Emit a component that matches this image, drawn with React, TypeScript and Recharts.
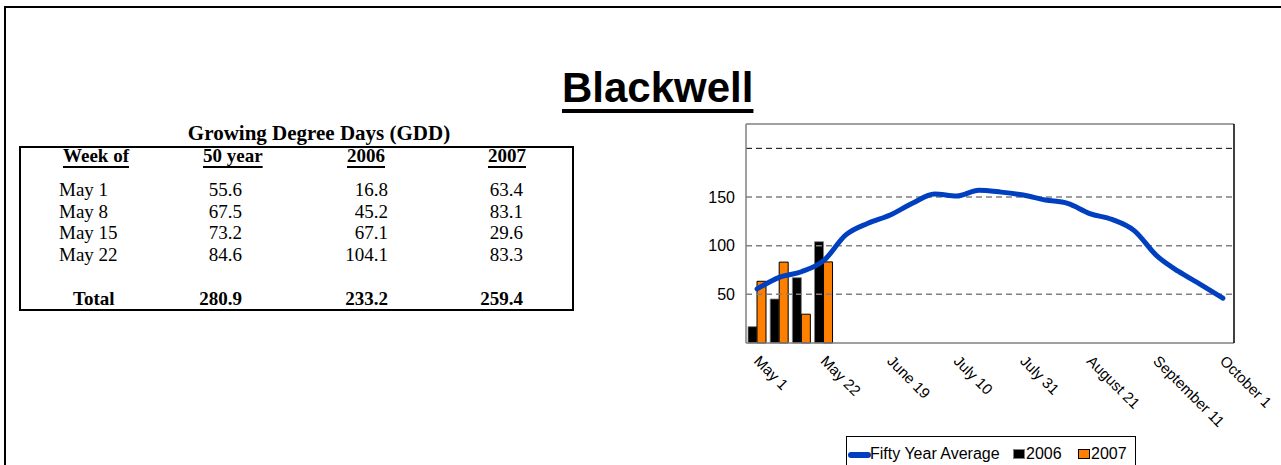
import {
  ComposedChart,
  Bar,
  Line,
  XAxis,
  YAxis,
  ReferenceLine,
} from 'recharts'

// weekly categories on the chart (only every third one is labelled)
const weeks = [
  'May 1', 'May 8', 'May 15', 'May 22', 'June 5', 'June 12', 'June 19', 'June 26',
  'July 3', 'July 10', 'July 17', 'July 24', 'July 31', 'August 7', 'August 14',
  'August 21', 'August 28', 'September 4', 'September 11', 'September 18',
  'September 25', 'October 1',
]

const fiftyYearAvg = [
  55.6, 67.5, 73.2, 84.6, 111, 123, 131.5, 143.5, 153, 151, 157, 155, 152, 147,
  143.5, 133, 127, 115.5, 90, 73.5, 60, 46,
]
const gdd2006 = [16.8, 45.2, 67.1, 104.1]
const gdd2007 = [63.4, 83.1, 29.6, 83.3]

const yTicks = [50, 100, 150]
const gridLevels = [50, 100, 150, 200]
const yMax = 225

const SANS = '"Liberation Sans", Arial, Helvetica, sans-serif'
const SERIF = '"Liberation Serif", "Times New Roman", Times, serif'

const BLUE = '#0040C0'
const ORANGE = '#FF8000'

const chartData = weeks.map((week, i) => ({
  week,
  avg: fiftyYearAvg[i],
  y2006: gdd2006[i],
  y2007: gdd2007[i],
}))

const tableRows = weeks.slice(0, 4).map((week, i) => ({
  week,
  avg: fiftyYearAvg[i].toFixed(1),
  y2006: gdd2006[i].toFixed(1),
  y2007: gdd2007[i].toFixed(1),
}))

const sum = (arr: number[]) => arr.reduce((a, b) => a + b, 0).toFixed(1)
const totals = [sum(fiftyYearAvg.slice(0, 4)), sum(gdd2006), sum(gdd2007)]

function XTick({ x, y, payload }: any) {
  const sx = x - 4
  const sy = y + 11
  return (
    <text
      x={sx}
      y={sy}
      transform={`rotate(45 ${sx} ${sy})`}
      fontSize={15}
      fontFamily={SANS}
      fill="#000"
    >
      {payload.value}
    </text>
  )
}

// column right edges for the table numbers
const colRight = [242, 388, 523]

function GddTable() {
  const rowTop = (i: number) => 180 + i * 21.5
  const cell = (text: string, right: number, top: number, bold = false) => (
    <span
      style={{
        position: 'absolute',
        right: 1281 - right,
        top,
        fontSize: 19,
        lineHeight: '19px',
        fontWeight: bold ? 'bold' : 'normal',
        whiteSpace: 'nowrap',
      }}
    >
      {text}
    </span>
  )
  const header = (text: string, left: number) => (
    <span
      style={{
        position: 'absolute',
        left,
        top: 148,
        fontSize: 19,
        lineHeight: '15px',
        fontWeight: 'bold',
        textDecoration: 'underline',
        textUnderlineOffset: '4px',
        textDecorationThickness: '2px',
        whiteSpace: 'nowrap',
      }}
    >
      {text}
    </span>
  )

  return (
    <div style={{ position: 'absolute', left: 0, top: 0, width: 1281, height: 465, fontFamily: SERIF, color: '#000' }}>
      <div
        style={{
          position: 'absolute',
          left: 119,
          width: 400,
          top: 124,
          textAlign: 'center',
          fontSize: 21,
          lineHeight: '18px',
          fontWeight: 'bold',
        }}
      >
        Growing Degree Days (GDD)
      </div>
      <div
        style={{
          position: 'absolute',
          left: 19,
          top: 146,
          width: 555,
          height: 165,
          border: '2px solid #000',
          boxSizing: 'border-box',
        }}
      />
      {header('Week of', 63)}
      {header('50 year', 203)}
      {header('2006', 347)}
      {header('2007', 488)}
      {tableRows.map((r, i) => (
        <span key={r.week}>
          <span
            style={{ position: 'absolute', left: 59, top: rowTop(i), fontSize: 19, lineHeight: '19px', whiteSpace: 'nowrap' }}
          >
            {r.week}
          </span>
          {cell(r.avg, colRight[0], rowTop(i))}
          {cell(r.y2006, colRight[1], rowTop(i))}
          {cell(r.y2007, colRight[2], rowTop(i))}
        </span>
      ))}
      <span
        style={{ position: 'absolute', left: 73, top: 289, fontSize: 19, lineHeight: '19px', fontWeight: 'bold' }}
      >
        Total
      </span>
      {totals.map((t, i) => (
        <span key={i}>{cell(t, colRight[i], 289, true)}</span>
      ))}
    </div>
  )
}

function ChartLegend() {
  const label = (text: string, left: number) => (
    <span style={{ position: 'absolute', left, top: 9, fontSize: 16, lineHeight: '16px', whiteSpace: 'nowrap' }}>
      {text}
    </span>
  )
  return (
    <div
      style={{
        position: 'absolute',
        left: 846,
        top: 436,
        width: 290,
        height: 34,
        border: '1px solid #000',
        boxSizing: 'border-box',
        fontFamily: SANS,
        color: '#000',
        background: '#fff',
      }}
    >
      <span
        style={{ position: 'absolute', left: 1, top: 15, width: 23, height: 6, borderRadius: 3, background: BLUE }}
      />
      {label('Fifty Year Average', 23)}
      <span
        style={{ position: 'absolute', left: 166, top: 12, width: 12, height: 10, background: '#000', border: '1px solid #808080', boxSizing: 'border-box' }}
      />
      {label('2006', 179)}
      <span
        style={{ position: 'absolute', left: 231, top: 12, width: 12, height: 10, background: ORANGE, border: '1px solid #000', boxSizing: 'border-box' }}
      />
      {label('2007', 244)}
    </div>
  )
}

export default function App() {
  return (
    <div
      style={{
        position: 'absolute',
        left: 0,
        top: 0,
        width: 1281,
        height: 465,
        overflow: 'hidden',
        background: '#fff',
      }}
    >
      {/* page frame */}
      <div
        style={{
          position: 'absolute',
          left: 4,
          top: 6,
          width: 1300,
          height: 500,
          borderLeft: '2px solid #000',
          borderTop: '2px solid #000',
        }}
      />

      <span
        style={{
          position: 'absolute',
          left: 562,
          top: 67,
          fontFamily: SANS,
          fontSize: 42,
          lineHeight: '42px',
          fontWeight: 'bold',
          textDecoration: 'underline',
          textUnderlineOffset: '7px',
          textDecorationThickness: '4px',
          whiteSpace: 'nowrap',
        }}
      >
        Blackwell
      </span>

      <GddTable />

      <div style={{ position: 'absolute', left: 690, top: 115 }}>
        <ComposedChart
          width={591}
          height={350}
          data={chartData}
          margin={{ top: 9, right: 46, bottom: 22, left: 6 }}
          barGap={0}
          barCategoryGap={2}
        >
          <XAxis
            dataKey="week"
            interval={2}
            tickLine={false}
            axisLine={{ stroke: '#808080', strokeWidth: 1.5 }}
            height={100}
            tick={<XTick />}
          />
          <YAxis
            domain={[0, yMax]}
            ticks={yTicks}
            tickLine={false}
            axisLine={{ stroke: '#808080', strokeWidth: 1.5 }}
            tick={{ fontSize: 16, fill: '#000', fontFamily: SANS }}
            tickMargin={5}
            width={50}
          />
          <YAxis
            yAxisId="right"
            orientation="right"
            domain={[0, yMax]}
            ticks={[]}
            width={1}
            tick={false}
            tickLine={false}
            axisLine={{ stroke: '#000', strokeWidth: 1.5 }}
          />
          {gridLevels.map((v) => (
            <ReferenceLine
              key={v}
              y={v}
              stroke={v === 200 ? '#000' : '#808080'}
              strokeWidth={v === 200 ? 1 : 1.5}
              strokeDasharray="6 4"
            />
          ))}
          <ReferenceLine y={yMax} stroke="#808080" strokeWidth={1.5} />
          <Bar dataKey="y2006" fill="#000" stroke="#808080" strokeWidth={0.8} isAnimationActive={false} />
          <Bar dataKey="y2007" fill={ORANGE} stroke="#000" strokeWidth={1} isAnimationActive={false} />
          <Line
            type="monotone"
            dataKey="avg"
            stroke={BLUE}
            strokeWidth={5}
            strokeLinecap="round"
            dot={false}
            isAnimationActive={false}
          />
        </ComposedChart>
      </div>

      <ChartLegend />
    </div>
  )
}
